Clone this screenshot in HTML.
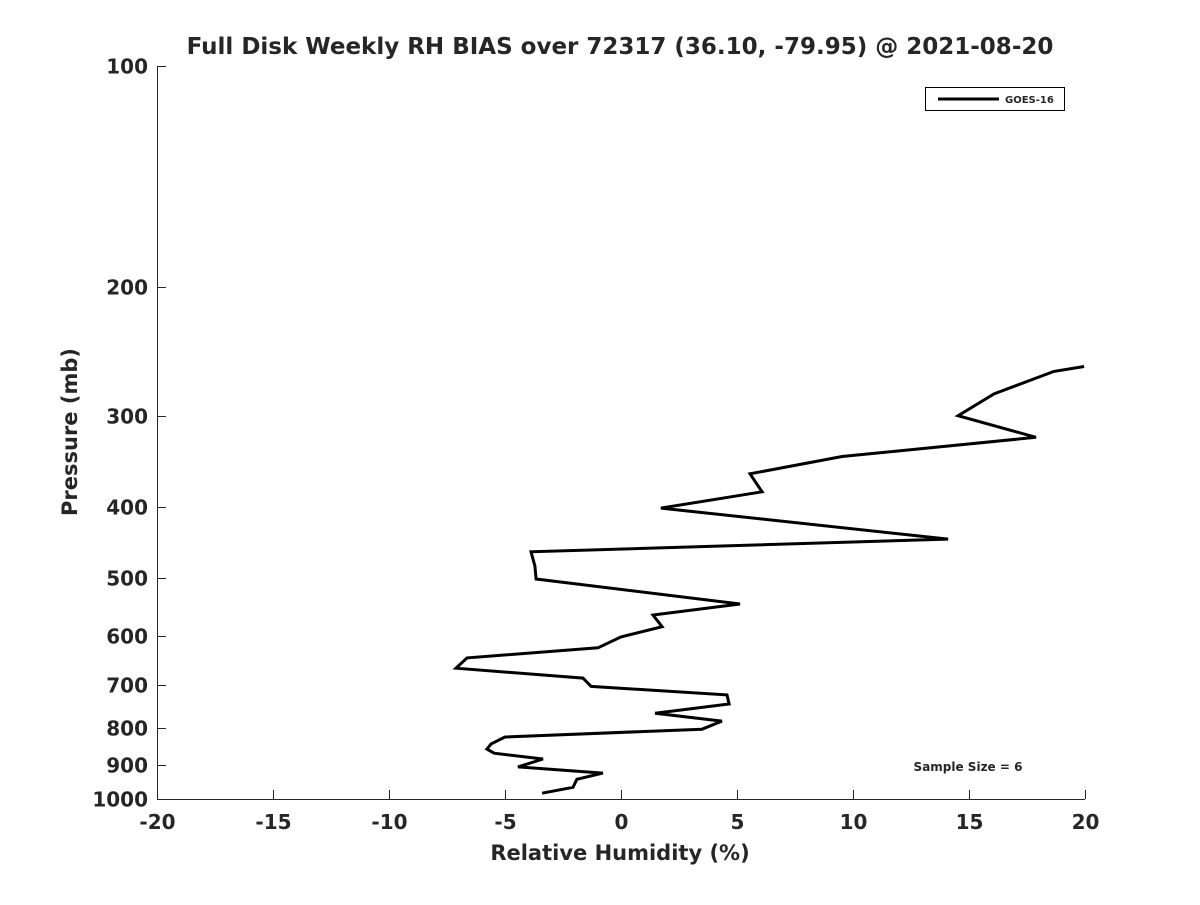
<!DOCTYPE html>
<html><head><meta charset="utf-8"><style>
body{margin:0;background:#fff;}
svg text{font-family:"DejaVu Sans","Liberation Sans",sans-serif;font-weight:bold;fill:#262626;}
</style></head><body>
<svg id="chart" width="1200" height="900" xmlns="http://www.w3.org/2000/svg">
<rect width="1200" height="900" fill="#fff"/>
<text x="620" y="54" font-size="23" text-anchor="middle" fill="#000">Full Disk Weekly RH BIAS over 72317 (36.10, -79.95) @ 2021-08-20</text>
<g id="axes"></g>
<text x="620" y="860" font-size="21" text-anchor="middle">Relative Humidity (%)</text>
<text transform="translate(77,432) rotate(-90)" font-size="21" text-anchor="middle">Pressure (mb)</text>
<g>
<rect x="925.5" y="87.5" width="139" height="23" fill="#fff" stroke="#000" stroke-width="1"/>
<line x1="938" y1="99" x2="999" y2="99" stroke="#000" stroke-width="3"/>
<text x="1005" y="103" font-size="10" fill="#000">GOES-16</text>
</g>
<text x="968" y="771" font-size="12" text-anchor="middle" fill="#000">Sample Size = 6</text>
</svg>
<script>
const pressures=[257,261,280,300,321,341,360,381,401,442,460,481,501,542,561,582,601,622,642,663,684,702,721,742,764,783,803,823,841,855,866,882,904,922,940,964,982];
const rhBias=[19.96,18.66,16.08,14.53,17.89,9.53,5.56,6.08,1.72,14.1,-3.88,-3.71,-3.66,5.13,1.38,1.77,0.0,-0.99,-6.64,-7.11,-1.64,-1.29,4.57,4.66,1.47,4.35,3.49,-5.0,-5.6,-5.78,-5.47,-3.36,-4.44,-0.78,-1.9,-2.07,-3.4];
const xTicks=[-20,-15,-10,-5,0,5,10,15,20];
const yTicks=[100,200,300,400,500,600,700,800,900,1000];
const L=157,R=1085,T=66,B=799;
const xs=v=>L+(v+20)/40*(R-L);
const ys=p=>T+Math.log10(p/100)*(B-T);
const NS="http://www.w3.org/2000/svg";
const axes=document.getElementById('axes');
function mk(tag,attrs,parent){const e=document.createElementNS(NS,tag);for(const k in attrs)e.setAttribute(k,attrs[k]);parent.appendChild(e);return e;}
const xl=mk('line',{x1:L,y1:B+0.5,x2:R,y2:B+0.5,stroke:'#262626','stroke-width':1},axes);


const yl=mk('line',{x1:L+0.5,y1:T,x2:L+0.5,y2:B,stroke:'#262626','stroke-width':1},axes);


xTicks.forEach(v=>{const x=Math.round(xs(v))+0.5;
 const t=mk('line',{x1:x,y1:B,x2:x,y2:B-9,stroke:'#262626'},axes);
 
 
 const tx=mk('text',{x:x,y:B+30,'font-size':20,'text-anchor':'middle'},axes);tx.textContent=v;
 
 
});
yTicks.forEach(p=>{const y=Math.round(ys(p))+0.5;
 const t=mk('line',{x1:L,y1:y,x2:L+9,y2:y,stroke:'#262626'},axes);
 
 
 const tx=mk('text',{x:L-9,y:y+7,'font-size':20,'text-anchor':'end'},axes);tx.textContent=p;
 
 
});
const pts=pressures.map((p,i)=>xs(rhBias[i]).toFixed(1)+','+ys(p).toFixed(1)).join(' ');
const line=mk('polyline',{points:pts,fill:'none',stroke:'#000','stroke-width':3,'stroke-linejoin':'miter'},axes);


</script>
</body></html>
